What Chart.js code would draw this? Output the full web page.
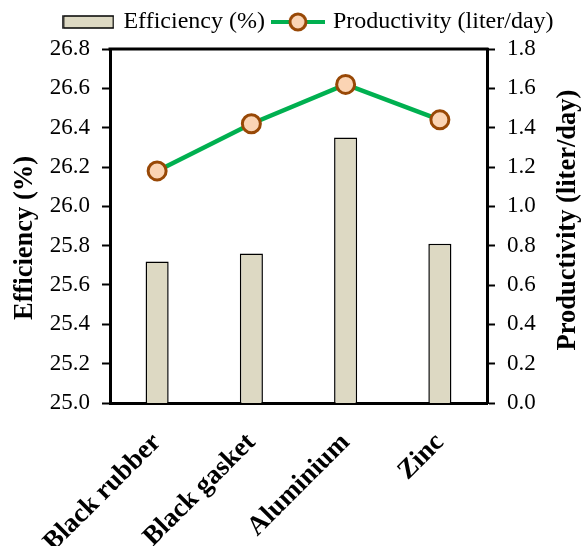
<!DOCTYPE html>
<html>
<head>
<meta charset="utf-8">
<script src="https://cdn.jsdelivr.net/npm/chart.js@4/dist/chart.umd.min.js"></script>
<style>
  html, body { margin: 0; padding: 0; background: #fff; }
  #c { display: block; }
</style>
</head>
<body>
<canvas id="c" width="585" height="546"></canvas>
<script>
const categories = ["Black rubber", "Black gasket", "Aluminium", "Zinc"];
const efficiency = [25.72, 25.76, 26.35, 25.81];
const productivity = [1.18, 1.42, 1.62, 1.44];
const seriesNames = ["Efficiency (%)", "Productivity (liter/day)"];
const axisTitles = ["Efficiency (%)", "Productivity (liter/day)"];

const FONT = "'Liberation Serif', 'Times New Roman', serif";
const BAR_FILL = "#DDD9C3";
const LINE_COLOR = "#00B050";
const PT_FILL = "#FBD4B4";
const PT_BORDER = "#984806";

function barIcon() {
  const cv = document.createElement('canvas');
  cv.width = 52; cv.height = 14;
  const g = cv.getContext('2d');
  g.fillStyle = BAR_FILL; g.fillRect(1, 1, 50, 12);
  g.strokeStyle = '#000'; g.lineWidth = 1.5; g.strokeRect(1, 1, 50, 12);
  return cv;
}
function lineIcon() {
  const cv = document.createElement('canvas');
  cv.width = 54; cv.height = 22;
  const g = cv.getContext('2d');
  g.strokeStyle = LINE_COLOR; g.lineWidth = 4;
  g.beginPath(); g.moveTo(0, 11); g.lineTo(54, 11); g.stroke();
  g.beginPath(); g.arc(27, 11, 8, 0, Math.PI * 2);
  g.fillStyle = PT_FILL; g.fill();
  g.strokeStyle = PT_BORDER; g.lineWidth = 3; g.stroke();
  return cv;
}

const legendHeight = {
  id: 'legendHeight',
  beforeLayout(chart) {
    const lg = chart.legend;
    if (lg && !lg._patched) {
      const orig = lg.fit.bind(lg);
      lg.fit = function () { orig(); this.height = 49; };
      lg._patched = true;
    }
  }
};

const frameAndTitles = {
  id: 'frameAndTitles',
  afterDraw(chart) {
    const a = chart.chartArea, ctx = chart.ctx;
    const cy = (a.top + a.bottom) / 2;
    ctx.save();
    ctx.strokeStyle = '#000'; ctx.lineWidth = 3;
    ctx.beginPath(); ctx.moveTo(a.left - 1.5, a.top); ctx.lineTo(a.right + 1.5, a.top); ctx.stroke();
    ctx.fillStyle = '#000';
    ctx.font = "bold 26.5px " + FONT;
    ctx.textAlign = 'center'; ctx.textBaseline = 'middle';
    ctx.save(); ctx.translate(25, cy + 12); ctx.rotate(-Math.PI / 2);
    ctx.fillText(axisTitles[0], 0, 0); ctx.restore();
    ctx.save(); ctx.translate(568, cy - 6); ctx.rotate(-Math.PI / 2);
    ctx.fillText(axisTitles[1], 0, 0); ctx.restore();
    ctx.restore();
  }
};

new Chart(document.getElementById('c'), {
  data: {
    labels: categories,
    datasets: [
      {
        type: 'bar', label: seriesNames[0], data: efficiency, yAxisID: 'y',
        backgroundColor: BAR_FILL, borderColor: '#000', borderWidth: 1.5,
        barPercentage: 0.245, categoryPercentage: 1, order: 1
      },
      {
        type: 'line', label: seriesNames[1], data: productivity, yAxisID: 'y1',
        borderColor: LINE_COLOR, borderWidth: 4.5, backgroundColor: PT_FILL,
        pointRadius: 9, pointBorderWidth: 3, pointBorderColor: PT_BORDER,
        pointBackgroundColor: PT_FILL, tension: 0, order: 0
      }
    ]
  },
  options: {
    responsive: false,
    animation: false,
    layout: { padding: { left: 34, right: 0, top: 0, bottom: 0 } },
    plugins: {
      tooltip: { enabled: false },
      legend: {
        position: 'top',
        labels: {
          usePointStyle: true,
          pointStyleWidth: 46,
          padding: 10,
          color: '#000',
          font: { family: FONT, size: 24 },
          generateLabels() {
            return [
              { text: seriesNames[0], pointStyle: barIcon(), fillStyle: BAR_FILL, strokeStyle: '#000', lineWidth: 0, datasetIndex: 0, fontColor: '#000' },
              { text: seriesNames[1], pointStyle: lineIcon(), fillStyle: PT_FILL, strokeStyle: LINE_COLOR, lineWidth: 0, datasetIndex: 1, fontColor: '#000' }
            ];
          }
        }
      }
    },
    scales: {
      x: {
        grid: { display: false, drawTicks: false },
        border: { display: true, color: '#000', width: 3 },
        ticks: {
          color: '#000', font: { family: FONT, size: 27, weight: 'bold' },
          minRotation: 45, maxRotation: 45, padding: 24, autoSkip: false
        },
        afterFit(s) { s.height = 143; }
      },
      y: {
        position: 'left', min: 25, max: 26.8,
        grid: { drawOnChartArea: false, drawTicks: true, tickLength: 8, tickWidth: 2, tickColor: '#000' },
        border: { display: true, color: '#000', width: 3 },
        ticks: {
          stepSize: 0.2, color: '#000', padding: 12,
          font: { family: FONT, size: 23 },
          callback: v => Number(v).toFixed(1)
        },
        afterFit(s) { s.width = 76; }
      },
      y1: {
        position: 'right', min: 0, max: 1.8,
        grid: { drawOnChartArea: false, drawTicks: true, tickLength: 8, tickWidth: 2, tickColor: '#000' },
        border: { display: true, color: '#000', width: 3 },
        ticks: {
          stepSize: 0.2, color: '#000', padding: 12,
          font: { family: FONT, size: 23 },
          callback: v => Number(v).toFixed(1)
        },
        afterFit(s) { s.width = 98; }
      }
    }
  },
  plugins: [legendHeight, frameAndTitles]
});
</script>
</body>
</html>
